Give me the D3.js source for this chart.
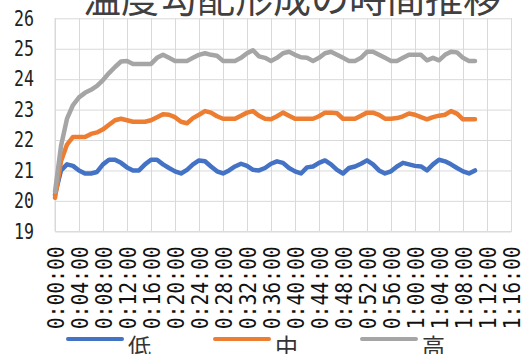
<!DOCTYPE html>
<html>
<head>
<meta charset="utf-8">
<script src="https://d3js.org/d3.v7.min.js"></script>
<style>
  * { margin:0; padding:0; }
  body { background:#fff; width:522px; height:354px; overflow:hidden; }
  svg { display:block; }
</style>
</head>
<body>
<svg id="chart" width="522" height="354"></svg>
<script>
// ── Data ────────────────────────────────────────────────────────────────────
var chartTitle = "温度勾配形成の時間推移";
var minutes = d3.range(0, 71);   // one reading per minute, 0:00 .. 1:10

var seriesLow = [
  20.2, 21.0, 21.2, 21.15, 21.0, 20.9, 20.9, 20.95, 21.2, 21.35,
  21.35, 21.25, 21.1, 21.0, 21.0, 21.2, 21.35, 21.35, 21.2, 21.08,
  20.97, 20.9, 21.02, 21.2, 21.33, 21.3, 21.13, 20.97, 20.9, 21.0,
  21.13, 21.22, 21.15, 21.02, 21.0, 21.08, 21.22, 21.3, 21.25, 21.08,
  20.97, 20.9, 21.1, 21.13, 21.25, 21.33, 21.2, 21.02, 20.9, 21.08,
  21.13, 21.22, 21.33, 21.2, 21.0, 20.9, 20.97, 21.13, 21.25, 21.2,
  21.15, 21.13, 21.0, 21.2, 21.35, 21.3, 21.2, 21.08, 20.97, 20.9,
  21.0
];
var seriesMid = [
  20.1, 21.3, 21.85, 22.1, 22.1, 22.1, 22.2, 22.25, 22.35, 22.5,
  22.65, 22.7, 22.65, 22.6, 22.6, 22.6, 22.65, 22.75, 22.85, 22.83,
  22.75, 22.6, 22.55, 22.72, 22.83, 22.95, 22.9, 22.78, 22.7, 22.7,
  22.7, 22.8, 22.9, 22.95, 22.8, 22.7, 22.68, 22.78, 22.9, 22.8,
  22.7, 22.7, 22.7, 22.7, 22.78, 22.9, 22.9, 22.88, 22.7, 22.7,
  22.7, 22.8, 22.9, 22.9, 22.83, 22.7, 22.7, 22.72, 22.78, 22.87,
  22.83, 22.75, 22.68, 22.75, 22.8, 22.83, 22.95, 22.87, 22.68, 22.68,
  22.68
];
var seriesHigh = [
  20.3, 21.8, 22.7, 23.15, 23.4, 23.55, 23.65, 23.78, 23.97, 24.2,
  24.4, 24.58, 24.6, 24.5, 24.5, 24.5, 24.5, 24.7, 24.8, 24.7,
  24.6, 24.6, 24.6, 24.7, 24.8, 24.85, 24.8, 24.77, 24.6, 24.6,
  24.6, 24.7, 24.85, 24.95, 24.75, 24.7, 24.6, 24.7, 24.85, 24.9,
  24.8, 24.72, 24.7, 24.6, 24.7, 24.85, 24.9, 24.8, 24.7, 24.6,
  24.6, 24.7, 24.9, 24.9, 24.8, 24.7, 24.6, 24.6, 24.7, 24.8,
  24.8, 24.8, 24.62, 24.7, 24.62, 24.8, 24.9, 24.88, 24.7, 24.6,
  24.6
];
var seriesNames  = ["低", "中", "高"];
var seriesColors = ["#4472C4", "#ED7D31", "#A5A5A5"];

var yTicks = [19, 20, 21, 22, 23, 24, 25, 26];
var xTicks = d3.range(0, 77, 4);
var xTickLabels = [
  "0:00:00", "0:04:00", "0:08:00", "0:12:00", "0:16:00", "0:20:00", "0:24:00",
  "0:28:00", "0:32:00", "0:36:00", "0:40:00", "0:44:00", "0:48:00", "0:52:00",
  "0:56:00", "1:00:00", "1:04:00", "1:08:00", "1:12:00", "1:16:00"
];

// ── Layout ──────────────────────────────────────────────────────────────────
var plot = { left: 55, right: 511, top: 18.3, bottom: 231.3 };
var svg = d3.select("#chart");

var x = d3.scaleLinear().domain([0, 76]).range([plot.left, plot.right]);
var y = d3.scaleLinear().domain([19, 26]).range([plot.bottom, plot.top]);

// Title (mostly cut off by the top edge, as in the reference)
svg.append("text")
  .attr("x", 292).attr("y", 12)
  .attr("text-anchor", "middle")
  .style("font-family", "'Noto Sans CJK JP', sans-serif")
  .style("font-size", "38px")
  .style("fill", "#404040")
  .text(chartTitle);

// Y axis + horizontal gridlines
var gy = svg.append("g")
  .attr("transform", "translate(" + plot.left + ",0)")
  .call(d3.axisLeft(y).tickValues(yTicks)
    .tickFormat(d3.format("d"))
    .tickSize(-(plot.right - plot.left)).tickPadding(21));
gy.select(".domain").remove();
gy.selectAll(".tick line").attr("stroke", "#d9d9d9");
gy.selectAll(".tick text")
  .style("font-family", "'DejaVu Sans Mono', monospace")
  .style("font-size", "21px")
  .style("fill", "#222")
  .attr("textLength", 20)
  .attr("lengthAdjust", "spacingAndGlyphs");

// X axis + vertical gridlines
var gx = svg.append("g")
  .attr("transform", "translate(0," + plot.bottom + ")")
  .call(d3.axisBottom(x).tickValues(xTicks)
    .tickSize(-(plot.bottom - plot.top))
    .tickFormat(function(d, i) { return xTickLabels[i]; }));
gx.select(".domain").attr("stroke", "#d9d9d9");
gx.selectAll(".tick line").attr("stroke", "#d9d9d9");
gx.selectAll(".tick text")
  .attr("transform", "rotate(-90)")
  .attr("x", -15).attr("y", 8).attr("dy", null)
  .attr("text-anchor", "end")
  .style("font-family", "'DejaVu Sans Mono', monospace")
  .style("font-size", "23px")
  .style("fill", "#111")
  .attr("textLength", 83)
  .attr("lengthAdjust", "spacingAndGlyphs");

// left border of plot
svg.append("line")
  .attr("x1", plot.left).attr("x2", plot.left)
  .attr("y1", plot.top).attr("y2", plot.bottom)
  .attr("stroke", "#d9d9d9");

// Lines
var lineGen = d3.line()
  .x(function(d, i) { return x(minutes[i]); })
  .y(function(d) { return y(d); });

[seriesLow, seriesMid, seriesHigh].forEach(function(s, k) {
  svg.append("path")
    .datum(s)
    .attr("d", lineGen)
    .attr("fill", "none")
    .attr("stroke", seriesColors[k])
    .attr("stroke-width", 4.5)
    .attr("stroke-linejoin", "round")
    .attr("stroke-linecap", "round");
});

// Legend
var legendX = [68, 215, 362];
seriesNames.forEach(function(name, k) {
  var g = svg.append("g").attr("transform", "translate(" + legendX[k] + ",339)");
  g.append("line")
    .attr("x1", 0).attr("x2", 54).attr("y1", 0).attr("y2", 0)
    .attr("stroke", seriesColors[k])
    .attr("stroke-width", 4)
    .attr("stroke-linecap", "round");
  g.append("text")
    .attr("x", 60).attr("y", 16)
    .style("font-family", "'Noto Sans CJK JP', sans-serif")
    .style("font-size", "23px")
    .style("fill", "#333")
    .text(name);
});
</script>
</body>
</html>
